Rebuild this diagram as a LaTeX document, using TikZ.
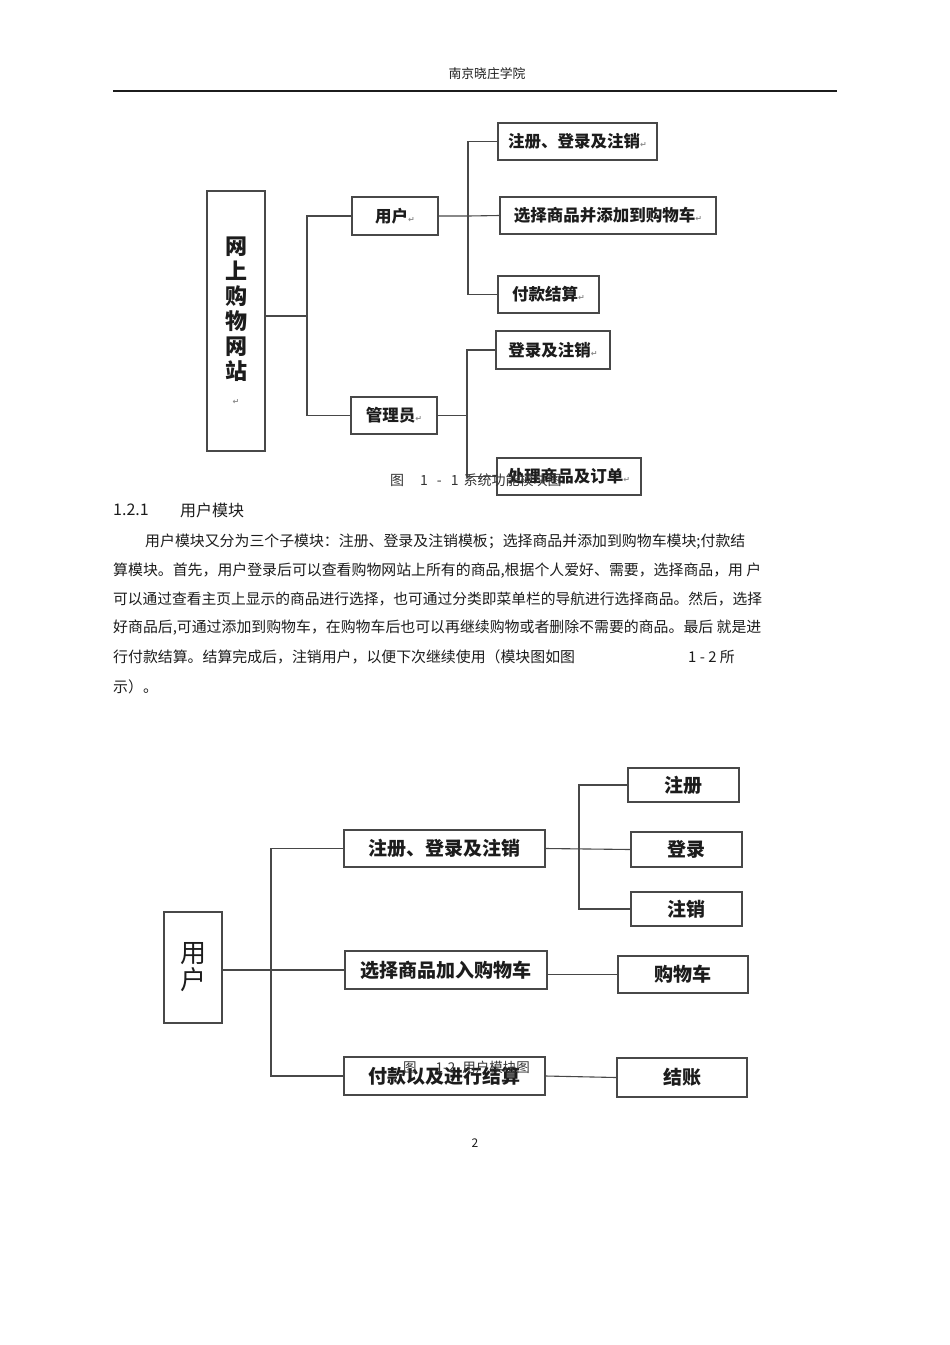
\documentclass[tikz,border=0pt]{standalone}
\usepackage{fontspec}
\setmainfont{Noto Sans CJK SC}
\newfontfamily\symfont{DejaVu Sans}
\usetikzlibrary{positioning}
\definecolor{LineGray}{RGB}{72, 72, 72}
\definecolor{TextBlack}{RGB}{28, 28, 28}
\newcommand{\pmark}{{\symfont\fontsize{8}{8}\selectfont\color{black!45}↵}}

\begin{document}
\begin{tikzpicture}[
    x=1pt, y=-1pt,
    every node/.style={inner sep=0pt, text=TextBlack},
    mbox/.style={draw=LineGray, line width=1.4pt, align=center},
    link/.style={draw=LineGray, line width=1.1pt},
    boxA/.style={mbox, minimum height=37pt, font=\fontsize{16.5}{18}\selectfont\bfseries},
    boxB/.style={mbox, minimum height=37pt, font=\fontsize{19}{21}\selectfont\bfseries},
    para/.style={anchor=west, font=\fontsize{14.9}{16}\selectfont},
    caption/.style={anchor=west, text=black!80, font=\fontsize{14}{16}\selectfont}
]
\useasboundingbox (0,0) rectangle (950,1345);

% page head
\node (school) at (487,74) {\fontsize{12.8}{14}\selectfont 南京晓庄学院};
\draw[line width=1.2pt, TextBlack] (113,91) -- (837,91);

% figure 1-1
\node[mbox, minimum width=58pt, minimum height=260pt,
      font=\fontsize{22}{25}\selectfont\bfseries] (site) at (236,321)
      {网\\上\\购\\物\\网\\站\\\pmark};
\node[boxA, minimum width=86pt, minimum height=38pt] (user) at (395,216) {用户\pmark};
\node[boxA, minimum width=86pt] (admin) at (394,415.5) {管理员\pmark};
\node[boxA, minimum width=159pt] (reg) at (577.5,141.5) {注册、登录及注销\pmark};
\node[boxA, minimum width=216pt] (cart) at (608,215.5) {选择商品并添加到购物车\pmark};
\node[boxA, minimum width=101pt] (pay) at (548.5,294.5) {付款结算\pmark};
\node[boxA, minimum width=114pt, minimum height=38pt] (login) at (553,350) {登录及注销\pmark};
\node[boxA, minimum width=144pt] (order) at (569,476.5) {处理商品及订单\pmark};

\coordinate (j1) at (307,316);
\coordinate (j2) at (468,216);
\coordinate (j3) at (467,415.5);
\draw[link] (site.east |- j1) -- (j1);
\draw[link] (user.west) -| (j1) |- (admin.west);
\draw[link] (user.east) -- (j2) -- (cart.west);
\draw[link] (reg.west) -| (j2) |- (pay.west);
\draw[link] (admin.east) -- (j3);
\draw[link] (login.west) -| (j3) |- (order.west);

\node[caption] (cap1) at (390,480)
      {图\hspace{16pt}1\hspace{9pt}-\hspace{9pt}1\hspace{5pt}系统功能模块图};

% section text
\node[anchor=west, font=\fontsize{16}{18}\selectfont] (secnum) at (113,510) {1.2.1};
\node[anchor=west, font=\fontsize{16}{18}\selectfont] (sectitle) at (180,510) {用户模块};
\node[para] (l1) at (145,542) {用户模块又分为三个子模块：注册、登录及注销模板；选择商品并添加到购物车模块;付款结};
\node[para] (l2) at (113,571) {算模块。首先，用户登录后可以查看购物网站上所有的商品,根据个人爱好、需要，选择商品，用 户};
\node[para, font=\fontsize{14.75}{16}\selectfont] (l3) at (113,599) {可以通过查看主页上显示的商品进行选择，也可通过分类即菜单栏的导航进行选择商品。然后，选择};
\node[para] (l4) at (113,628) {好商品后,可通过添加到购物车，在购物车后也可以再继续购物或者删除不需要的商品。最后 就是进};
\node[para] (l5) at (113,657) {行付款结算。结算完成后，注销用户，以便下次继续使用（模块图如图};
\node[para] (l5b) at (688,657) {1 - 2 所};
\node[para] (l6) at (113,687) {示）。};

% figure 1-2
\node[mbox, minimum width=58pt, minimum height=111pt,
      font=\fontsize{26}{27}\selectfont] (usr2) at (193,967.5) {用\\户};
\node[boxB, minimum width=201pt] (m1) at (444.5,848.5) {注册、登录及注销};
\node[boxB, minimum width=202pt, minimum height=38pt] (m2) at (446,970) {选择商品加入购物车};
\node[boxB, minimum width=201pt, minimum height=38pt] (m3) at (444.5,1076) {付款以及进行结算};
\node[boxB, minimum width=111pt, minimum height=34pt] (zc) at (683.5,785) {注册};
\node[boxB, minimum width=111pt, minimum height=35pt] (dl) at (686.5,849.5) {登录};
\node[boxB, minimum width=111pt, minimum height=34pt] (zx) at (686.5,909) {注销};
\node[boxB, minimum width=130pt] (gwc) at (683,974.5) {购物车};
\node[boxB, minimum width=130pt, minimum height=39pt] (jz) at (682,1077.5) {结账};

\coordinate (k1) at (271,970);
\coordinate (k2) at (579,849);
\draw[link] (usr2.east |- m2.west) -- (m2.west);
\draw[link] (m1.west) -| (k1) |- (m3.west);
\draw[link] (m1.east) -- (dl.west);
\draw[link] (zc.west) -| (k2) |- (zx.west);
\draw[link] (m2.east |- gwc.west) -- (gwc.west);
\draw[link] (m3.east) -- (jz.west);

\node[caption, font=\fontsize{13.5}{15}\selectfont] (cap2) at (403,1067)
      {图\hspace{19pt}1-2\hspace{7pt}用户模块图};

\node (pagenum) at (475,1143) {\fontsize{12}{14}\selectfont 2};
\end{tikzpicture}
\end{document}
